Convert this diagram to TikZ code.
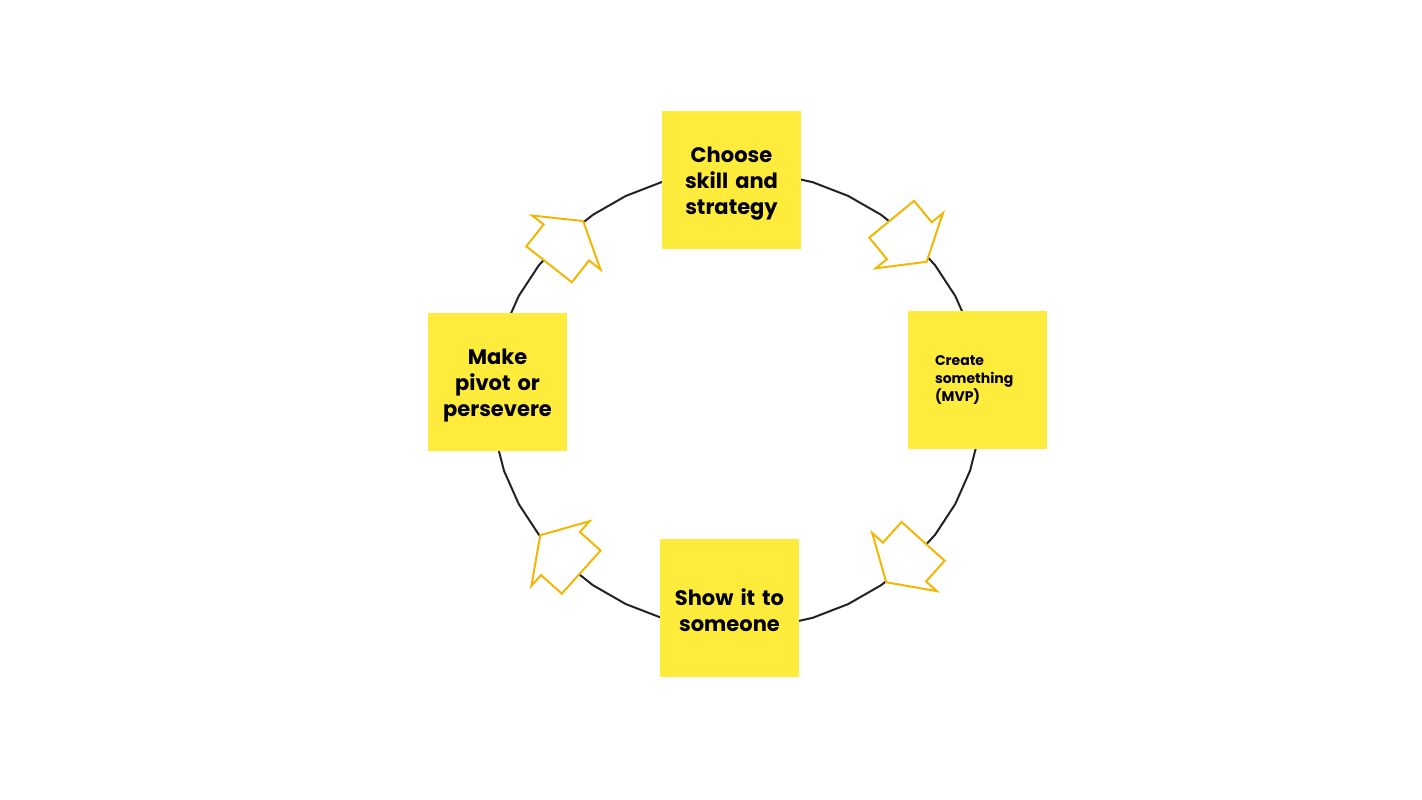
\documentclass[tikz,border=0pt]{standalone}
\usepackage{fontspec}
\setmainfont{Poppins}
\definecolor{notefill}{HTML}{FFEB3B}
\definecolor{arrowline}{HTML}{F2B705}
\definecolor{ringline}{HTML}{222222}
\tikzset{
	note/.style={fill=notefill, minimum width=139pt, minimum height=138pt, inner sep=0pt},
	sticky/.style={note, text width=125pt, inner xsep=7pt, align=center, font=\bfseries\fontsize{21}{26}\selectfont, execute at begin node=\rule{0pt}{23pt}},
	smallsticky/.style={note, text width=85pt, inner xsep=27pt, align=left, font=\bfseries\fontsize{14}{18}\selectfont},
	cyclearrow/.style={draw=arrowline, fill=white, line width=2pt, line join=miter}
}
\begin{document}
\begin{tikzpicture}[x=1pt, y=-1pt]
		\useasboundingbox (0,0) rectangle (1422,800);
		% the cycle
		\draw[domain=0:360, samples=41, variable=\t, ringline, line width=2pt] plot ({737+245*cos(\t)}, {400+229*sin(\t)});
		% block arrows along the ring
		\draw[cyclearrow, shift={(909.3,240.7)}, rotate=-50.6] (-27.8,-29) -- (0,-29) -- (0,-43.5) -- (27.3,0) -- (0,43.5) -- (0,29) -- (-27.8,29) -- cycle;
		\draw[cyclearrow, shift={(904.5,562)}, rotate=-132] (-27.8,-29) -- (0,-29) -- (0,-43.5) -- (27.3,0) -- (0,43.5) -- (0,29) -- (-27.8,29) -- cycle;
		\draw[cyclearrow, shift={(560.5,553.5)}, rotate=138] (-27.8,-29) -- (0,-29) -- (0,-43.5) -- (27.3,0) -- (0,43.5) -- (0,29) -- (-27.8,29) -- cycle;
		\draw[cyclearrow, shift={(566.3,242.5)}, rotate=51.7] (-27.8,-29) -- (0,-29) -- (0,-43.5) -- (27.3,0) -- (0,43.5) -- (0,29) -- (-27.8,29) -- cycle;
		% the four steps
		\node[sticky] (choose) at (731.5,180) {Choose\\skill and\\strategy};
		\node[smallsticky] (create) at (977.5,379.5) {Create\\something\\(MVP)};
		\node[sticky] (show) at (729.5,607.5) {Show it to\\someone};
		\node[sticky] (pivot) at (497.5,381.5) {Make\\pivot or\\persevere};
	\end{tikzpicture}
\end{document}
